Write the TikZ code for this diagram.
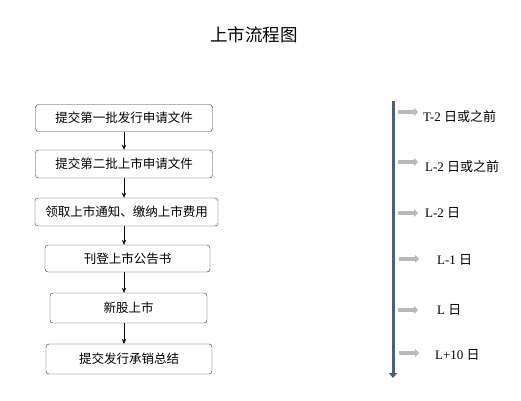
\documentclass[tikz,border=0pt]{standalone}
\usepackage{fontspec}
\setmainfont{Liberation Serif}
\newfontfamily\cjk{Noto Sans CJK SC}
\usetikzlibrary{arrows.meta}
\definecolor{axisblue}{RGB}{72,96,130}
\definecolor{stepgray}{RGB}{185,185,185}
\tikzset{
  stepbox/.style={draw=black!80, rounded corners=3pt, inner sep=0pt, font=\cjk\fontsize{12.5}{14}\selectfont},
  flowarrow/.style={-{Stealth[length=5pt,width=4.5pt]}, black, semithick},
  markarrow/.style={stepgray, line width=4pt, -{Triangle[length=4pt,width=8pt]}},
  datelabel/.style={anchor=west, inner sep=0pt, font=\fontsize{13}{15}\selectfont}
}
\begin{document}
\begin{tikzpicture}[x=1pt,y=-1pt]
\useasboundingbox (0,0) rectangle (521,400);

\node[font=\cjk\fontsize{17.5}{19}\selectfont] (title) at (254,35) {上市流程图};

% flow chart
\node[stepbox, minimum width=177pt, minimum height=27pt] (s1) at (124,118) {提交第一批发行申请文件};
\node[stepbox, minimum width=177pt, minimum height=28pt] (s2) at (124,164) {提交第二批上市申请文件};
\node[stepbox, minimum width=183pt, minimum height=28pt] (s3) at (126.5,212) {领取上市通知、缴纳上市费用};
\node[stepbox, minimum width=165pt, minimum height=27pt] (s4) at (127.5,258.5) {刊登上市公告书};
\node[stepbox, minimum width=157pt, minimum height=30pt] (s5) at (128.5,308) {新股上市};
\node[stepbox, minimum width=166pt, minimum height=30pt] (s6) at (129,359) {提交发行承销总结};

\draw[flowarrow] (s1.south) -- (s1.south |- s2.north);
\draw[flowarrow] (s1.south |- s2.south) -- (s1.south |- s3.north);
\draw[flowarrow] (s1.south |- s3.south) -- (s1.south |- s4.north);
\draw[flowarrow] (s1.south |- s4.south) -- (s1.south |- s5.north);
\draw[flowarrow] (s1.south |- s5.south) -- (s1.south |- s6.north);

% time line
\coordinate (top) at (393,101);
\coordinate (bottom) at (393,378);
\draw[axisblue, line width=3pt, -{Triangle[length=5pt,width=8pt]}] (top) -- (bottom);

\node[datelabel] (d1) at (423,117) {T-2 {\cjk 日或之前}};
\node[datelabel] (d2) at (425,167) {L-2 {\cjk 日或之前}};
\node[datelabel] (d3) at (425,213) {L-2 {\cjk 日}};
\node[datelabel] (d4) at (437,260) {L-1 {\cjk 日}};
\node[datelabel] (d5) at (437,310) {L {\cjk 日}};
\node[datelabel] (d6) at (435,355) {L+10 {\cjk 日}};

\coordinate (m1) at (398,112);
\coordinate (m2) at (398,162);
\coordinate (m3) at (398,213);
\coordinate (m4) at (399,259);
\coordinate (m5) at (398,310);
\coordinate (m6) at (399,353);
\draw[markarrow] (m1) -- ++(20,0);
\draw[markarrow] (m2) -- ++(20,0);
\draw[markarrow] (m3) -- ++(20,0);
\draw[markarrow] (m4) -- ++(20,0);
\draw[markarrow] (m5) -- ++(20,0);
\draw[markarrow] (m6) -- ++(20,0);

\end{tikzpicture}
\end{document}
